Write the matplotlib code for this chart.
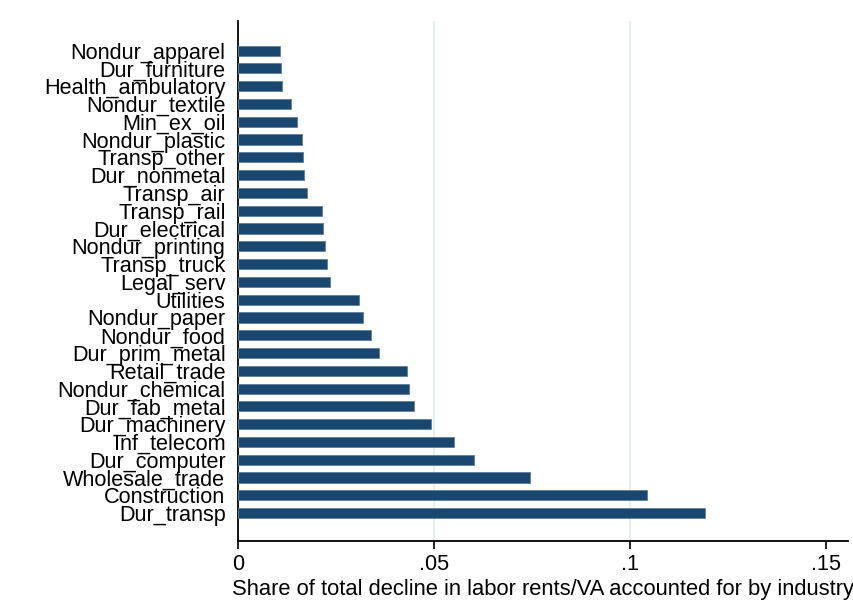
import matplotlib
matplotlib.use("Agg")
import matplotlib.pyplot as plt
import numpy as np

plt.rcParams['font.family'] = ['Liberation Sans', 'DejaVu Sans']

industries = [
    "Nondur_apparel", "Dur_furniture", "Health_ambulatory", "Nondur_textile",
    "Min_ex_oil", "Nondur_plastic", "Transp_other", "Dur_nonmetal",
    "Transp_air", "Transp_rail", "Dur_electrical", "Nondur_printing",
    "Transp_truck", "Legal_serv", "Utilities", "Nondur_paper",
    "Nondur_food", "Dur_prim_metal", "Retail_trade", "Nondur_chemical",
    "Dur_fab_metal", "Dur_machinery", "Inf_telecom", "Dur_computer",
    "Wholesale_trade", "Construction", "Dur_transp",
]
shares = [
    0.0108, 0.0110, 0.0111, 0.0136,
    0.0151, 0.0164, 0.0166, 0.0169,
    0.0175, 0.0215, 0.0218, 0.0222,
    0.0228, 0.0235, 0.0309, 0.0319,
    0.0340, 0.0360, 0.0432, 0.0435,
    0.0449, 0.0493, 0.0551, 0.0602,
    0.0745, 0.1044, 0.1190,
]
xticks = [0, 0.05, 0.10, 0.15]
xticklabels = ["0", ".05", ".1", ".15"]
xlabel = "Share of total decline in labor rents/VA accounted for by industry"

fig = plt.figure(figsize=(8.54, 6.03), dpi=100)
ax = fig.add_axes([0.2787, 0.1028, 0.993 - 0.2787, 0.965 - 0.1028])

pos = np.arange(len(industries))
ax.barh(pos, shares, height=0.57, color="#1a476f", edgecolor="#5d7f9e",
        linewidth=0.6, zorder=3)

ax.set_ylim(len(industries) - 1 + 1.57, -1.66)
ax.set_xlim(0, 0.1556)

ax.set_yticks(pos)
ax.set_yticklabels(industries, fontsize=15.6)
ax.tick_params(axis="y", length=0, pad=9)

ax.set_xticks(xticks)
ax.set_xticklabels(xticklabels, fontsize=15.6)
ax.tick_params(axis="x", length=6, width=1.2, pad=3, direction="out")

for g in [0.05, 0.10]:
    ax.axvline(g, color="#e6eef2", linewidth=1.6, zorder=1)

ax.set_xlabel(xlabel, fontsize=15.8, labelpad=3)

for s in ["top", "right"]:
    ax.spines[s].set_visible(False)
for s in ["left", "bottom"]:
    ax.spines[s].set_linewidth(1.3)
    ax.spines[s].set_color("black")

fig.savefig("out.png", dpi=100, facecolor="white")
